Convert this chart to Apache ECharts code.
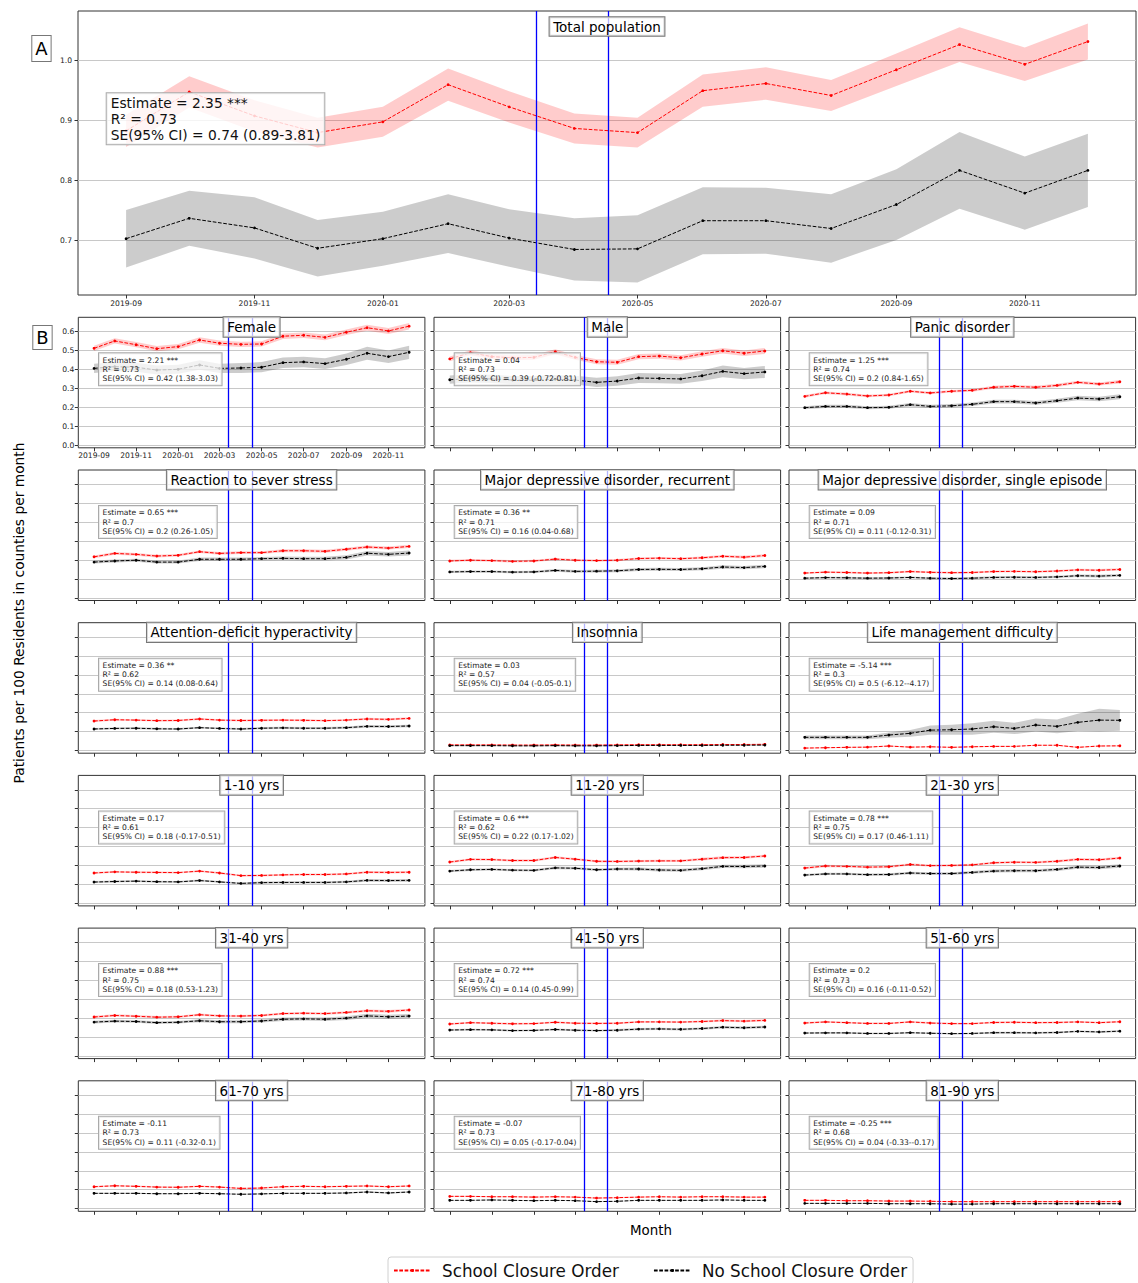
<!DOCTYPE html>
<html><head><meta charset="utf-8">
<script src="https://cdn.jsdelivr.net/npm/echarts@6/dist/echarts.min.js"></script>
<style>html,body{margin:0;padding:0;background:#fff}#c{width:1138px;height:1283px}</style>
</head><body><div id="c"></div>
<script>
// ---------------- data ----------------
const months = ['2019-09','2019-10','2019-11','2019-12','2020-01','2020-02','2020-03','2020-04','2020-05','2020-06','2020-07','2020-08','2020-09','2020-10','2020-11','2020-12'];
const xTickLabels = ['2019-09','2019-11','2020-01','2020-03','2020-05','2020-07','2020-09','2020-11'];
const yTicksA = [0.7,0.8,0.9,1.0];
const yTicksB = [0.0,0.1,0.2,0.3,0.4,0.5,0.6];
const closureDates = ['2020-03-14','2020-04-17'];
const seriesNames = ['School Closure Order','No School Closure Order'];

// Panel A: total population
const totalRed   = [0.883,0.948,0.908,0.880,0.898,0.960,0.923,0.887,0.880,0.950,0.962,0.942,0.985,1.027,0.994,1.032];
const totalRedCI = [0.027,0.026,0.026,0.025,0.025,0.027,0.026,0.025,0.025,0.027,0.027,0.026,0.027,0.029,0.028,0.030];
const totalBlack   = [0.703,0.737,0.721,0.687,0.703,0.728,0.704,0.685,0.686,0.733,0.733,0.720,0.760,0.817,0.779,0.817];
const totalBlackCI = [0.048,0.046,0.051,0.047,0.045,0.049,0.048,0.052,0.056,0.056,0.055,0.057,0.059,0.064,0.061,0.061];
const totalStats = ['2.35 ***','0.73','0.74 (0.89-3.81)'];

// Panel B
const femaleRed   = [0.512,0.551,0.531,0.510,0.521,0.556,0.539,0.533,0.535,0.576,0.581,0.570,0.597,0.621,0.604,0.629];
const femaleRedCI = [0.014,0.014,0.014,0.014,0.014,0.014,0.014,0.014,0.014,0.015,0.015,0.015,0.015,0.016,0.016,0.017];
const femaleBlack   = [0.406,0.415,0.412,0.397,0.401,0.424,0.406,0.408,0.412,0.436,0.440,0.431,0.454,0.486,0.468,0.491];
const femaleBlackCI = [0.024,0.024,0.024,0.024,0.024,0.025,0.025,0.026,0.027,0.028,0.028,0.028,0.030,0.034,0.033,0.035];
const femaleStats = ['2.21 ***','0.73','0.42 (1.38-3.03)'];

const maleRed   = [0.456,0.489,0.468,0.462,0.464,0.494,0.464,0.441,0.438,0.468,0.471,0.462,0.482,0.499,0.486,0.498];
const maleRedCI = [0.013,0.013,0.013,0.013,0.013,0.013,0.013,0.013,0.013,0.014,0.014,0.014,0.014,0.015,0.015,0.016];
const maleBlack   = [0.346,0.353,0.350,0.344,0.343,0.348,0.344,0.332,0.339,0.355,0.353,0.350,0.367,0.390,0.378,0.387];
const maleBlackCI = [0.022,0.022,0.022,0.022,0.022,0.023,0.023,0.024,0.025,0.026,0.026,0.026,0.028,0.031,0.030,0.032];
const maleStats = ['0.04','0.73','0.39 (-0.72-0.81)'];

const panicRed   = [0.258,0.277,0.270,0.260,0.265,0.285,0.276,0.285,0.290,0.306,0.311,0.306,0.316,0.332,0.323,0.335];
const panicRedCI = [0.007,0.007,0.007,0.007,0.007,0.007,0.007,0.007,0.007,0.008,0.008,0.008,0.008,0.008,0.008,0.009];
const panicBlack   = [0.198,0.205,0.205,0.198,0.200,0.214,0.205,0.208,0.216,0.230,0.230,0.223,0.235,0.249,0.244,0.256];
const panicBlackCI = [0.008,0.008,0.008,0.008,0.008,0.009,0.009,0.009,0.009,0.010,0.010,0.010,0.011,0.012,0.012,0.013];
const panicStats = ['1.25 ***','0.74','0.2 (0.84-1.65)'];

const stressRed   = [0.217,0.235,0.230,0.221,0.225,0.244,0.235,0.239,0.239,0.249,0.249,0.246,0.257,0.269,0.263,0.272];
const stressRedCI = [0.007,0.007,0.007,0.007,0.007,0.007,0.007,0.007,0.007,0.008,0.008,0.008,0.008,0.008,0.008,0.009];
const stressBlack   = [0.189,0.195,0.199,0.189,0.189,0.204,0.204,0.204,0.207,0.209,0.207,0.207,0.214,0.236,0.230,0.237];
const stressBlackCI = [0.008,0.008,0.008,0.008,0.008,0.009,0.009,0.009,0.009,0.010,0.010,0.010,0.011,0.012,0.012,0.013];
const stressStats = ['0.65 ***','0.7','0.2 (0.26-1.05)'];

const mddrRed   = [0.195,0.199,0.197,0.193,0.195,0.205,0.199,0.197,0.199,0.208,0.210,0.207,0.212,0.220,0.215,0.224];
const mddrRedCI = [0.006,0.006,0.006,0.006,0.006,0.006,0.006,0.006,0.006,0.006,0.006,0.006,0.007,0.007,0.007,0.007];
const mddrBlack   = [0.137,0.139,0.139,0.136,0.137,0.145,0.140,0.141,0.143,0.150,0.151,0.150,0.154,0.163,0.160,0.166];
const mddrBlackCI = [0.006,0.006,0.006,0.006,0.006,0.007,0.007,0.007,0.007,0.008,0.008,0.008,0.008,0.009,0.009,0.009];
const mddrStats = ['0.36 **','0.71','0.16 (0.04-0.68)'];

const mddsRed   = [0.131,0.136,0.134,0.131,0.133,0.139,0.135,0.133,0.134,0.139,0.140,0.138,0.142,0.148,0.146,0.150];
const mddsRedCI = [0.005,0.005,0.005,0.005,0.005,0.005,0.005,0.005,0.005,0.005,0.005,0.005,0.005,0.006,0.006,0.006];
const mddsBlack   = [0.104,0.107,0.106,0.104,0.105,0.108,0.104,0.102,0.104,0.108,0.109,0.108,0.111,0.117,0.115,0.119];
const mddsBlackCI = [0.005,0.005,0.005,0.005,0.005,0.005,0.005,0.005,0.006,0.006,0.006,0.006,0.006,0.007,0.007,0.007];
const mddsStats = ['0.09','0.71','0.11 (-0.12-0.31)'];

const adhdRed   = [0.156,0.163,0.161,0.158,0.159,0.167,0.161,0.159,0.160,0.161,0.160,0.158,0.161,0.167,0.165,0.170];
const adhdRedCI = [0.005,0.005,0.005,0.005,0.005,0.005,0.005,0.005,0.005,0.005,0.005,0.005,0.005,0.006,0.006,0.006];
const adhdBlack   = [0.114,0.117,0.118,0.115,0.114,0.121,0.117,0.114,0.118,0.120,0.118,0.118,0.121,0.128,0.127,0.130];
const adhdBlackCI = [0.005,0.005,0.005,0.005,0.005,0.005,0.005,0.005,0.006,0.006,0.006,0.006,0.006,0.007,0.007,0.007];
const adhdStats = ['0.36 **','0.62','0.14 (0.08-0.64)'];

const insomniaRed   = [0.030,0.030,0.030,0.029,0.029,0.030,0.029,0.029,0.030,0.031,0.031,0.031,0.031,0.032,0.032,0.033];
const insomniaRedCI = [0.003,0.003,0.003,0.003,0.003,0.003,0.003,0.003,0.003,0.003,0.003,0.003,0.003,0.003,0.003,0.003];
const insomniaBlack   = [0.026,0.026,0.026,0.025,0.025,0.026,0.025,0.025,0.026,0.027,0.027,0.027,0.027,0.028,0.028,0.029];
const insomniaBlackCI = [0.003,0.003,0.003,0.003,0.003,0.003,0.003,0.003,0.003,0.003,0.003,0.003,0.003,0.003,0.003,0.003];
const insomniaStats = ['0.03','0.57','0.04 (-0.05-0.1)'];

const lifeRed   = [0.013,0.015,0.017,0.018,0.024,0.018,0.020,0.017,0.020,0.022,0.022,0.028,0.028,0.017,0.024,0.025];
const lifeRedCI = [0.003,0.003,0.003,0.003,0.003,0.003,0.003,0.003,0.003,0.003,0.003,0.003,0.003,0.003,0.003,0.003];
const lifeBlack   = [0.070,0.070,0.070,0.070,0.082,0.091,0.108,0.110,0.114,0.126,0.117,0.135,0.128,0.149,0.161,0.160];
const lifeBlackCI = [0.010,0.010,0.010,0.010,0.014,0.018,0.024,0.026,0.030,0.032,0.030,0.034,0.036,0.045,0.060,0.055];
const lifeStats = ['-5.14 ***','0.3','0.5 (-6.12--4.17)'];

const age1Red   = [0.160,0.166,0.164,0.163,0.162,0.170,0.160,0.146,0.147,0.150,0.152,0.152,0.155,0.164,0.163,0.164];
const age1RedCI = [0.005,0.005,0.005,0.005,0.005,0.005,0.005,0.005,0.005,0.005,0.005,0.005,0.005,0.006,0.006,0.006];
const age1Black   = [0.112,0.115,0.117,0.114,0.113,0.120,0.113,0.105,0.109,0.110,0.110,0.110,0.113,0.121,0.120,0.121];
const age1BlackCI = [0.005,0.005,0.005,0.005,0.005,0.005,0.005,0.005,0.006,0.006,0.006,0.006,0.006,0.007,0.007,0.007];
const age1Stats = ['0.17','0.61','0.18 (-0.17-0.51)'];

const age2Red   = [0.218,0.232,0.231,0.226,0.226,0.242,0.233,0.222,0.221,0.223,0.224,0.224,0.233,0.241,0.242,0.250];
const age2RedCI = [0.006,0.006,0.006,0.006,0.006,0.006,0.006,0.006,0.006,0.006,0.006,0.006,0.007,0.007,0.007,0.007];
const age2Black   = [0.170,0.177,0.179,0.175,0.174,0.187,0.185,0.177,0.181,0.181,0.176,0.174,0.183,0.195,0.194,0.197];
const age2BlackCI = [0.006,0.006,0.006,0.006,0.006,0.007,0.007,0.007,0.007,0.008,0.008,0.008,0.008,0.009,0.009,0.009];
const age2Stats = ['0.6 ***','0.62','0.22 (0.17-1.02)'];

const age3Red   = [0.186,0.197,0.195,0.191,0.193,0.205,0.199,0.200,0.203,0.214,0.217,0.216,0.222,0.232,0.230,0.239];
const age3RedCI = [0.006,0.006,0.006,0.006,0.006,0.006,0.006,0.006,0.006,0.006,0.006,0.006,0.007,0.007,0.007,0.007];
const age3Black   = [0.149,0.155,0.155,0.151,0.152,0.160,0.157,0.157,0.163,0.170,0.172,0.172,0.179,0.191,0.189,0.197];
const age3BlackCI = [0.006,0.006,0.006,0.006,0.006,0.007,0.007,0.007,0.007,0.008,0.008,0.008,0.008,0.009,0.009,0.009];
const age3Stats = ['0.78 ***','0.75','0.17 (0.46-1.11)'];

const age4Red   = [0.206,0.214,0.210,0.205,0.207,0.218,0.212,0.211,0.214,0.224,0.226,0.224,0.230,0.239,0.236,0.243];
const age4RedCI = [0.006,0.006,0.006,0.006,0.006,0.006,0.006,0.006,0.006,0.006,0.006,0.006,0.007,0.007,0.007,0.007];
const age4Black   = [0.179,0.184,0.182,0.176,0.178,0.186,0.181,0.181,0.185,0.194,0.196,0.194,0.200,0.212,0.207,0.211];
const age4BlackCI = [0.007,0.007,0.007,0.007,0.007,0.008,0.008,0.008,0.008,0.009,0.009,0.009,0.010,0.011,0.011,0.011];
const age4Stats = ['0.88 ***','0.75','0.18 (0.53-1.23)'];

const age5Red   = [0.169,0.176,0.173,0.170,0.171,0.178,0.173,0.172,0.173,0.180,0.180,0.179,0.182,0.187,0.184,0.188];
const age5RedCI = [0.005,0.005,0.005,0.005,0.005,0.005,0.005,0.005,0.005,0.005,0.005,0.005,0.005,0.006,0.006,0.006];
const age5Black   = [0.137,0.139,0.138,0.134,0.135,0.140,0.136,0.134,0.136,0.142,0.143,0.141,0.145,0.152,0.149,0.153];
const age5BlackCI = [0.005,0.005,0.005,0.005,0.005,0.005,0.005,0.005,0.006,0.006,0.006,0.006,0.006,0.007,0.007,0.007];
const age5Stats = ['0.72 ***','0.74','0.14 (0.45-0.99)'];

const age6Red   = [0.174,0.180,0.176,0.172,0.172,0.180,0.174,0.171,0.171,0.177,0.178,0.176,0.177,0.180,0.176,0.181];
const age6RedCI = [0.005,0.005,0.005,0.005,0.005,0.005,0.005,0.005,0.005,0.005,0.005,0.005,0.005,0.005,0.005,0.005];
const age6Black   = [0.121,0.122,0.122,0.119,0.119,0.123,0.120,0.118,0.119,0.123,0.123,0.122,0.124,0.130,0.127,0.131];
const age6BlackCI = [0.004,0.004,0.004,0.004,0.004,0.004,0.004,0.004,0.004,0.005,0.005,0.005,0.005,0.005,0.005,0.005];
const age6Stats = ['0.2','0.73','0.16 (-0.11-0.52)'];

const age7Red   = [0.116,0.121,0.118,0.114,0.113,0.118,0.114,0.107,0.109,0.116,0.118,0.116,0.118,0.120,0.116,0.120];
const age7RedCI = [0.004,0.004,0.004,0.004,0.004,0.004,0.004,0.004,0.004,0.004,0.004,0.004,0.004,0.004,0.004,0.004];
const age7Black   = [0.081,0.081,0.081,0.079,0.079,0.081,0.079,0.076,0.078,0.081,0.081,0.081,0.083,0.088,0.083,0.088];
const age7BlackCI = [0.003,0.003,0.003,0.003,0.003,0.003,0.003,0.003,0.003,0.003,0.003,0.003,0.004,0.004,0.004,0.004];
const age7Stats = ['-0.11','0.73','0.11 (-0.32-0.1)'];

const age8Red   = [0.065,0.065,0.063,0.063,0.061,0.063,0.061,0.056,0.058,0.061,0.063,0.061,0.063,0.063,0.061,0.061];
const age8RedCI = [0.003,0.003,0.003,0.003,0.003,0.003,0.003,0.003,0.003,0.003,0.003,0.003,0.003,0.003,0.003,0.003];
const age8Black   = [0.044,0.044,0.046,0.044,0.042,0.044,0.042,0.037,0.039,0.044,0.044,0.044,0.044,0.046,0.044,0.044];
const age8BlackCI = [0.002,0.002,0.002,0.002,0.002,0.002,0.002,0.002,0.002,0.002,0.002,0.002,0.002,0.002,0.002,0.002];
const age8Stats = ['-0.07','0.73','0.05 (-0.17-0.04)'];

const age9Red   = [0.044,0.044,0.042,0.042,0.040,0.040,0.039,0.037,0.037,0.037,0.037,0.037,0.037,0.037,0.037,0.037];
const age9RedCI = [0.003,0.003,0.003,0.003,0.003,0.003,0.003,0.003,0.003,0.003,0.003,0.003,0.003,0.003,0.003,0.003];
const age9Black   = [0.028,0.028,0.028,0.028,0.026,0.026,0.026,0.024,0.024,0.026,0.026,0.026,0.026,0.026,0.026,0.026];
const age9BlackCI = [0.002,0.002,0.002,0.002,0.002,0.002,0.002,0.002,0.002,0.002,0.002,0.002,0.002,0.002,0.002,0.002];
const age9Stats = ['-0.25 ***','0.68','0.04 (-0.33--0.17)'];

// ---------------- helpers ----------------
function ts(s){ const p = s.split('-').map(Number); return Date.UTC(p[0], p[1]-1, p[2]||1); }
const DAY = 86400000;
const t0 = ts(months[0]);
function dayIdx(s){ return (ts(s) - t0) / DAY; }
const span = dayIdx(months[months.length-1]);
const xMin = -0.05*span, xMax = span*1.05;
const xTickVals = xTickLabels.map(dayIdx);
const closureDays = closureDates.map(dayIdx);

const panelsB = [
  ['Female', femaleRed, femaleRedCI, femaleBlack, femaleBlackCI, femaleStats],
  ['Male', maleRed, maleRedCI, maleBlack, maleBlackCI, maleStats],
  ['Panic disorder', panicRed, panicRedCI, panicBlack, panicBlackCI, panicStats],
  ['Reaction to sever stress', stressRed, stressRedCI, stressBlack, stressBlackCI, stressStats],
  ['Major depressive disorder, recurrent', mddrRed, mddrRedCI, mddrBlack, mddrBlackCI, mddrStats],
  ['Major depressive disorder, single episode', mddsRed, mddsRedCI, mddsBlack, mddsBlackCI, mddsStats],
  ['Attention-deficit hyperactivity', adhdRed, adhdRedCI, adhdBlack, adhdBlackCI, adhdStats],
  ['Insomnia', insomniaRed, insomniaRedCI, insomniaBlack, insomniaBlackCI, insomniaStats],
  ['Life management difficulty', lifeRed, lifeRedCI, lifeBlack, lifeBlackCI, lifeStats],
  ['1-10 yrs', age1Red, age1RedCI, age1Black, age1BlackCI, age1Stats],
  ['11-20 yrs', age2Red, age2RedCI, age2Black, age2BlackCI, age2Stats],
  ['21-30 yrs', age3Red, age3RedCI, age3Black, age3BlackCI, age3Stats],
  ['31-40 yrs', age4Red, age4RedCI, age4Black, age4BlackCI, age4Stats],
  ['41-50 yrs', age5Red, age5RedCI, age5Black, age5BlackCI, age5Stats],
  ['51-60 yrs', age6Red, age6RedCI, age6Black, age6BlackCI, age6Stats],
  ['61-70 yrs', age7Red, age7RedCI, age7Black, age7BlackCI, age7Stats],
  ['71-80 yrs', age8Red, age8RedCI, age8Black, age8BlackCI, age8Stats],
  ['81-90 yrs', age9Red, age9RedCI, age9Black, age9BlackCI, age9Stats]
];

// ---------------- layout ----------------
const FONT = 'DejaVu Sans';
const gridA = {left:78, top:11, width:1058, height:284};
const colLeft = [78.3, 434, 789], colW = 346.6;
const rowTop = [317.3, 470, 622.7, 775.4, 928.1, 1080.8], rowH = 130.5;

const grids = [], xAxes = [], yAxes = [], series = [], graphics = [];

function fmtX(v){ const k = xTickVals.indexOf(v); return k >= 0 ? xTickLabels[k] : ''; }

function bandSeries(gi, vals, ci, color){
  const pts = vals.map((v,i)=>[dayIdx(months[i]), v-ci[i], v+ci[i]]);
  return {
    type:'custom', xAxisIndex:gi, yAxisIndex:gi, silent:true, z:1,
    data: pts, encode:{x:0, y:[1,2]},
    renderItem:function(params, api){
      if (params.dataIndexInside !== 0) return null;
      const up = [], lo = [];
      for (let j=0;j<pts.length;j++){
        up.push(api.coord([pts[j][0], pts[j][2]]));
        lo.push(api.coord([pts[j][0], pts[j][1]]));
      }
      return {type:'polygon', shape:{points: up.concat(lo.reverse())}, style:{fill:color}};
    }
  };
}
function lineSeries(gi, vals, name, color, withMark){
  const s = {
    type:'line', name:name, xAxisIndex:gi, yAxisIndex:gi, z:3,
    data: vals.map((v,i)=>[dayIdx(months[i]), v]),
    symbol:'circle', symbolSize:2.8, showSymbol:true,
    lineStyle:{color:color, width:1, type:[3.7,1.6]},
    itemStyle:{color:color}, emphasis:{disabled:true}
  };
  if (withMark){
    s.markLine = {silent:true, symbol:['none','none'], label:{show:false},
      lineStyle:{color:'#0000ff', type:'solid', width:1.3},
      emphasis:{disabled:true},
      data: closureDays.map(d=>({xAxis:d}))};
  }
  return s;
}
function addPanel(gi, red, redCI, black, blackCI){
  series.push(bandSeries(gi, red, redCI, 'rgba(255,0,0,0.2)'));
  series.push(bandSeries(gi, black, blackCI, 'rgba(0,0,0,0.2)'));
  series.push(lineSeries(gi, red, seriesNames[0], '#ff0000', false));
  series.push(lineSeries(gi, black, seriesNames[1], '#000000', true));
}
function statText(st){ return 'Estimate = ' + st[0] + '\nR² = ' + st[1] + '\nSE(95% CI) = ' + st[2]; }

// Panel A
grids.push(Object.assign({show:true, borderColor:'#333', borderWidth:1, backgroundColor:'transparent'}, gridA));
xAxes.push({gridIndex:0, type:'value', min:xMin, max:xMax,
  axisLine:{show:false, onZero:false}, splitLine:{show:false},
  axisTick:{show:true, length:3.5, lineStyle:{color:'#333'}, customValues:xTickVals},
  axisLabel:{show:true, customValues:xTickVals, formatter:fmtX, fontSize:7.6, color:'#222', margin:4, fontFamily:FONT}});
yAxes.push({gridIndex:0, type:'value', min:0.609, max:1.083,
  axisLine:{show:false, onZero:false},
  splitLine:{show:true, lineStyle:{color:'#c8c8c8', width:1}},
  axisTick:{show:true, length:3.5, lineStyle:{color:'#333'}, customValues:yTicksA},
  axisLabel:{show:true, customValues:yTicksA, formatter:v=>v.toFixed(1), fontSize:7.6, color:'#222', margin:6, fontFamily:FONT}});
addPanel(0, totalRed, totalRedCI, totalBlack, totalBlackCI);

// Panel B
panelsB.forEach((p, k)=>{
  const gi = k+1, r = Math.floor(k/3), c = k%3;
  const g = {left:colLeft[c], top:rowTop[r], width:colW, height:rowH, show:true, borderColor:'#333', borderWidth:1, backgroundColor:'transparent'};
  grids.push(g);
  xAxes.push({gridIndex:gi, type:'value', min:xMin, max:xMax,
    axisLine:{show:false, onZero:false}, splitLine:{show:false},
    axisTick:{show:true, length:3.5, lineStyle:{color:'#333'}, customValues:xTickVals},
    axisLabel:{show:k===0, customValues:xTickVals, formatter:fmtX, fontSize:7.6, color:'#222', margin:4, fontFamily:FONT}});
  yAxes.push({gridIndex:gi, type:'value', min:-0.014, max:0.676,
    axisLine:{show:false, onZero:false},
    splitLine:{show:true, lineStyle:{color:'#c8c8c8', width:1}},
    axisTick:{show:true, length:3.5, lineStyle:{color:'#333'}, customValues:yTicksB},
    axisLabel:{show:k===0, customValues:yTicksB, formatter:v=>v.toFixed(1), fontSize:7.6, color:'#222', margin:4, fontFamily:FONT}});
  addPanel(gi, p[1], p[2], p[3], p[4]);
  // title box
  graphics.push({type:'text', z:100, style:{text:p[0], x:g.left+g.width/2, y:g.top, align:'center', textAlign:'center', verticalAlign:'top', textVerticalAlign:'top',
    fontSize:13.5, fontFamily:FONT, fill:'#000', lineHeight:14, padding:[2.7,3.6,2.7,3.6],
    backgroundColor:'rgba(255,255,255,0.7)', borderColor:'#777', borderWidth:1}});
  // stats box
  graphics.push({type:'text', z:100, style:{text:statText(p[5]), x:g.left+20.7, y:g.top+36, align:'left', verticalAlign:'top',
    fontSize:7.6, fontFamily:FONT, fill:'#222', lineHeight:9.2, padding:[2.2,3.6,2.2,3.6],
    backgroundColor:'rgba(255,255,255,0.75)', borderColor:'#aaa', borderWidth:1}});
});

// Panel A labels
graphics.push({type:'text', z:100, style:{text:'Total population', x:gridA.left+gridA.width/2, y:17.3, align:'center', textAlign:'center', verticalAlign:'top',
  fontSize:13.5, fontFamily:FONT, fill:'#000', lineHeight:14, padding:[2.2,3.6,2.2,3.6],
  backgroundColor:'rgba(255,255,255,0.7)', borderColor:'#777', borderWidth:1}});
graphics.push({type:'text', z:100, style:{text:statText(totalStats), x:106.7, y:93.3, align:'left', verticalAlign:'top',
  fontSize:13.8, fontFamily:FONT, fill:'#111', lineHeight:16, padding:[1.5,4,1.5,4],
  backgroundColor:'rgba(255,255,255,0.8)', borderColor:'#aaa', borderWidth:1}});
graphics.push({type:'text', z:100, style:{text:'A', x:32.3, y:36, align:'left', verticalAlign:'top',
  fontSize:18, fontFamily:FONT, fill:'#000', lineHeight:20, padding:[2.5,3,2.5,3],
  backgroundColor:'#fff', borderColor:'#777', borderWidth:1}});
graphics.push({type:'text', z:100, style:{text:'B', x:33.3, y:326, align:'left', verticalAlign:'top',
  fontSize:18, fontFamily:FONT, fill:'#000', lineHeight:20, padding:[1.5,3,1.5,3],
  backgroundColor:'#fff', borderColor:'#777', borderWidth:1}});
graphics.push({type:'text', z:100, style:{text:'Month', x:651, y:1230, align:'center', verticalAlign:'middle',
  fontSize:13.4, fontFamily:FONT, fill:'#000'}});
graphics.push({type:'text', z:100, rotation:Math.PI/2, x:19, y:613, style:{text:'Patients per 100 Residents in counties per month', x:0, y:0, align:'center', verticalAlign:'middle',
  fontSize:13.8, fontFamily:FONT, fill:'#000'}});

const option = {
  animation:false,
  textStyle:{fontFamily:FONT},
  grid:grids, xAxis:xAxes, yAxis:yAxes, series:series,
  graphic:graphics,
  legend:{left:388, top:1257, data:seriesNames, itemWidth:37, itemHeight:4, itemGap:34,
    padding:[5,6,5,5], borderColor:'#d0d0d0', borderWidth:1, borderRadius:3, backgroundColor:'#fff',
    textStyle:{fontSize:16.8, color:'#111', fontFamily:FONT, padding:[0,0,0,6]}, selectedMode:false}
};
const chart = echarts.init(document.getElementById('c'), null, {renderer:'svg'});
chart.setOption(option);
</script>
</body></html>
